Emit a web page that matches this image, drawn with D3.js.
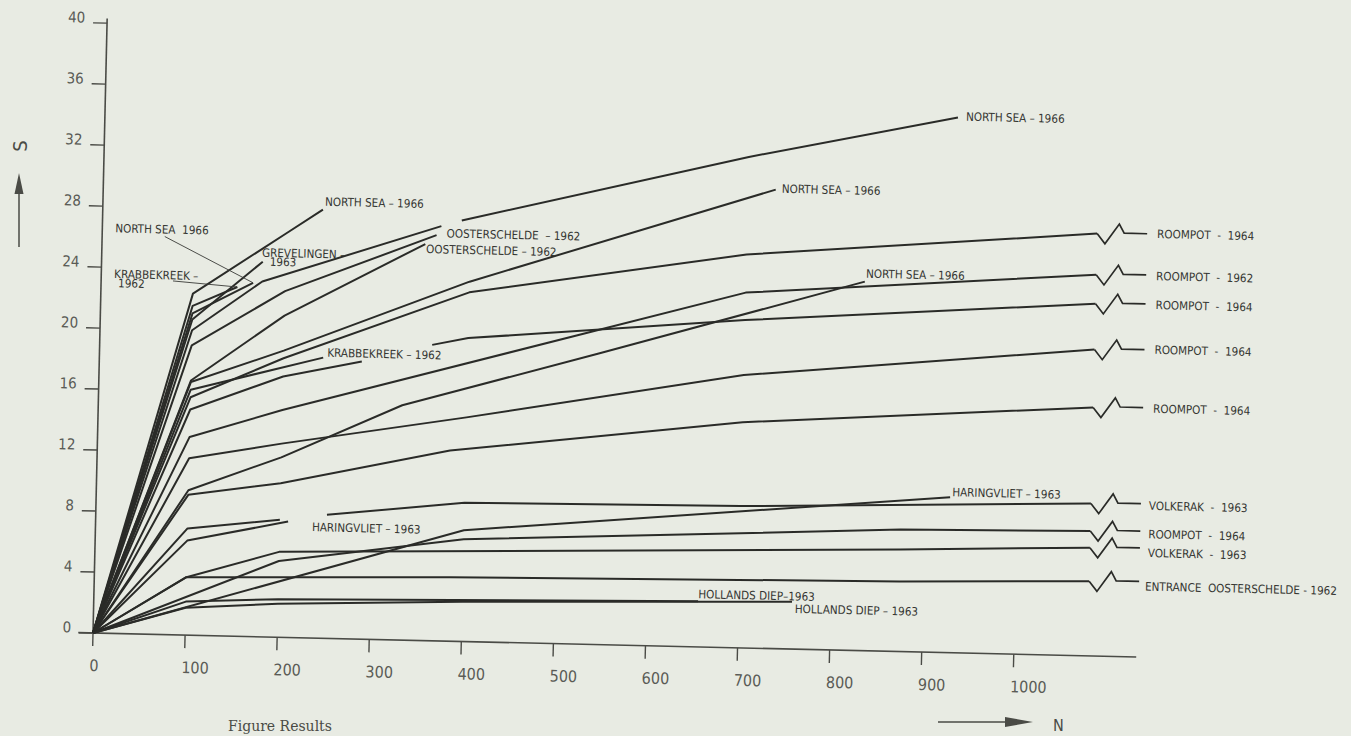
<!DOCTYPE html>
<html>
<head>
<meta charset="utf-8">
<script src="https://cdn.jsdelivr.net/npm/d3@7"></script>
<style>
  body { margin: 0; background: #e8ebe3; }
  svg { display: block; }
  text { font-family: "Liberation Sans Narrow", "DejaVu Sans Condensed", sans-serif; fill: #353632; }
  .lbl { font-size: 11.6px; white-space: pre; }
</style>
</head>
<body>
<svg id="chart" width="1351" height="736"></svg>
<script>
//-----------------------------------------------------//
// Data (N, S), null = gap in the drawn line

const xTicks = [0, 100, 200, 300, 400, 500, 600, 700, 800, 900, 1000];
const yTicks = [0, 4, 8, 12, 16, 20, 24, 28, 32, 36, 40];

const northSeaTop    = [[0,0],[100,20.0],[175,23.3],[368,27.2],null,[390,27.6],[700,32.2],[926,35.1]];
const northSeaShort  = [[0,0],[100,22.4],[200,26.5],[239,28.1]];
const krabbeUpper    = [[0,0],[100,21.6],[148,22.9]];
const northSeaLeader = [[0,0],[100,21.1],[165,23.2]];
const grevelingen    = [[0,0],[100,20.7],[175,24.6]];
const oosterUpper    = [[0,0],[100,19.0],[200,22.7],[363,26.6]];
const oosterLower    = [[0,0],[100,16.7],[200,21.1],[351,26.0]];
const northSeaMid    = [[0,0],[100,16.6],[200,18.8],[400,23.6],[730,30.1]];
const krabbeMid      = [[0,0],[100,16.1],[243,18.4]];
const roompotA       = [[0,0],[100,15.6],[200,18.3],[400,22.9],[700,25.8],[1080,27.7]];
const roompot62      = [[0,0],[100,13.0],[200,14.9],[700,23.3],[1080,25.0]];
const roompotB       = [[0,0],[100,14.8],[200,17.1],[285,18.2],null,[361,19.4],[400,19.9],[700,21.5],[1080,23.1]];
const roompotC       = [[0,0],[100,11.6],[200,12.7],[400,14.7],[700,17.9],[1080,20.1]];
const roompotD       = [[0,0],[100,9.2],[200,10.1],[383,12.5],[700,14.8],[1080,16.3]];
const northSeaLow    = [[0,0],[100,9.5],[200,11.8],[330,15.4],[543,19.1],[829,24.2]];
const volkerakA      = [[0,0],[100,7.0],[200,7.7],null,[251,8.1],[400,9.1],[700,9.3],[1080,10.0]];
const haringLeft     = [[0,0],[100,6.2],[209,7.6]];
const haringRight    = [[0,0],[400,7.3],[927,10.2]];
const roompotE       = [[0,0],[200,5.0],[400,6.7],[874,8.0],[1080,8.2]];
const volkerakB      = [[0,0],[100,3.8],[200,5.6],[874,6.7],[1080,7.1]];
const entrance       = [[0,0],[100,3.8],[386,4.2],[874,4.6],[1080,4.9]];
const hollandsA      = [[0,0],[100,2.2],[200,2.5],[656,3.0]];
const hollandsB      = [[0,0],[100,1.8],[200,2.2],[400,2.6],[758,3.1]];

// label text per series; broken = runs past the axis break on the right
const series = [
  { pts: northSeaTop,    name: "NORTH SEA \u2013 1966" },
  { pts: northSeaShort,  name: "NORTH SEA \u2013 1966" },
  { pts: krabbeUpper,    name: "" },
  { pts: northSeaLeader, name: "" },
  { pts: grevelingen,    name: "" },
  { pts: oosterUpper,    name: "OOSTERSCHELDE  \u2013 1962" },
  { pts: oosterLower,    name: "OOSTERSCHELDE \u2013 1962" },
  { pts: northSeaMid,    name: "NORTH SEA \u2013 1966" },
  { pts: krabbeMid,      name: "KRABBEKREEK \u2013 1962" },
  { pts: roompotA,       name: "ROOMPOT  -  1964", broken: true },
  { pts: roompot62,      name: "ROOMPOT  -  1962", broken: true },
  { pts: roompotB,       name: "ROOMPOT  -  1964", broken: true },
  { pts: roompotC,       name: "ROOMPOT  -  1964", broken: true },
  { pts: roompotD,       name: "ROOMPOT  -  1964", broken: true },
  { pts: northSeaLow,    name: "NORTH SEA \u2013 1966" },
  { pts: volkerakA,      name: "VOLKERAK  -  1963", broken: true },
  { pts: haringLeft,     name: "HARINGVLIET \u2013 1963" },
  { pts: haringRight,    name: "HARINGVLIET \u2013 1963" },
  { pts: roompotE,       name: "ROOMPOT  -  1964", broken: true },
  { pts: volkerakB,      name: "VOLKERAK  -  1963", broken: true },
  { pts: entrance,       name: "ENTRANCE  OOSTERSCHELDE - 1962", broken: true, fit: 192 },
  { pts: hollandsA,      name: "HOLLANDS DIEP\u20131963" },
  { pts: hollandsB,      name: "HOLLANDS DIEP \u2013 1963" }
];

// label offsets (px) from the last point of each series
const labelOffset = [
  [8,3],[2,-4],null,null,null,[10,2],[1,9],[6,3],[4,-1],
  [60,3],[60,4],[60,4],[60,3],[60,4],[1,-4],[58,5],[24,9],[2,-1],
  [58,6],[58,8],[56,8],[0,-3],[3,11]
];

//-----------------------------------------------------//

const svg = d3.select("#chart");
const originX = 93, originY = 633;
const tilt = 1.32;   // the scanned page sits slightly rotated

const x = d3.scaleLinear().domain([0, 1000]).range([originX, originX + 921]);
const y = d3.scaleLinear().domain([0, 40]).range([originY, originY - 610]);

const g = svg.append("g").attr("transform", `rotate(${tilt},${originX},${originY})`);

// axes
g.append("line")
  .attr("x1", x(-16)).attr("x2", x(1133))
  .attr("y1", y(0)).attr("y2", y(0))
  .attr("stroke", "#4a4b46").attr("stroke-width", 1.6);
g.append("line")
  .attr("x1", x(0)).attr("x2", x(0))
  .attr("y1", y(0)).attr("y2", y(40.3))
  .attr("stroke", "#4a4b46").attr("stroke-width", 1.6);

g.selectAll(".ytick").data(yTicks).enter().append("line")
  .attr("x1", x(0) - 14).attr("x2", x(0))
  .attr("y1", d => y(d)).attr("y2", d => y(d))
  .attr("stroke", "#4a4b46").attr("stroke-width", 1.4);
g.selectAll(".ylab").data(yTicks).enter().append("text")
  .attr("x", x(0) - 22).attr("y", d => y(d))
  .attr("text-anchor", "end")
  .style("font-size", "15px").style("fill", "#5a5b56")
  .text(d => d);

g.selectAll(".xtick").data(xTicks).enter().append("line")
  .attr("x1", d => x(d)).attr("x2", d => x(d))
  .attr("y1", y(0)).attr("y2", y(0) + 13)
  .attr("stroke", "#4a4b46").attr("stroke-width", 1.4);
g.selectAll(".xlab").data(xTicks).enter().append("text")
  .attr("x", d => x(d) - 3).attr("y", y(0) + 38)
  .style("font-size", "16px").style("fill", "#5a5b56")
  .text(d => d);

// curves
const line = d3.line()
  .defined(d => d !== null)
  .x(d => x(d[0]))
  .y(d => y(d[1]));

g.selectAll(".curve").data(series).enter().append("path")
  .attr("class", "curve")
  .attr("d", d => line(d.pts))
  .attr("fill", "none")
  .attr("stroke", "#2a2b28")
  .attr("stroke-width", 2)
  .attr("stroke-linejoin", "round");

// axis break on the long series
series.forEach(function(s) {
  if (!s.broken) return;
  let p = s.pts[s.pts.length - 1];
  let bx = x(p[0]), by = y(p[1]);
  g.append("path")
    .attr("d", `M${bx},${by} l8,10 l14,-20 l5,9 l23,0`)
    .attr("fill", "none").attr("stroke", "#2a2b28").attr("stroke-width", 1.7);
});

// end labels
series.forEach(function(s, i) {
  let off = labelOffset[i];
  if (!off || !s.name) return;
  let p = s.pts[s.pts.length - 1];
  let t = g.append("text").attr("class", "lbl")
    .attr("x", x(p[0]) + off[0]).attr("y", y(p[1]) + off[1])
    .text(s.name);
  if (s.fit) t.attr("textLength", s.fit).attr("lengthAdjust", "spacingAndGlyphs");
});

// labels with leader lines near the steep part
let endOf = arr => arr[arr.length - 1];

g.append("text").attr("class", "lbl").attr("x", x(14)).attr("y", y(26.3)).text("NORTH SEA  1966");
g.append("line")
  .attr("x1", x(68)).attr("y1", y(26.1))
  .attr("x2", x(endOf(northSeaLeader)[0])).attr("y2", y(endOf(northSeaLeader)[1]))
  .attr("stroke", "#3b3c38").attr("stroke-width", 0.9);

g.append("text").attr("class", "lbl").attr("x", x(14)).attr("y", y(23.3)).text("KRABBEKREEK \u2013");
g.append("text").attr("class", "lbl").attr("x", x(18.5)).attr("y", y(22.7)).text("1962");
g.append("line")
  .attr("x1", x(78)).attr("y1", y(23.2))
  .attr("x2", x(endOf(krabbeUpper)[0])).attr("y2", y(endOf(krabbeUpper)[1]))
  .attr("stroke", "#3b3c38").attr("stroke-width", 0.9);

let gv = endOf(grevelingen);
g.append("text").attr("class", "lbl").attr("x", x(gv[0]) - 1).attr("y", y(gv[1]) - 5).text("GREVELINGEN \u2013");
g.append("text").attr("class", "lbl").attr("x", x(gv[0]) + 7).attr("y", y(gv[1]) + 4).text("1963");

// axis titles (outside the tilted frame)
svg.append("text")
  .attr("transform", "translate(27,146) rotate(-90)")
  .attr("text-anchor", "middle")
  .style("font-size", "20px").style("fill", "#4a4b46")
  .text("S");
svg.append("line").attr("x1", 19).attr("x2", 19).attr("y1", 247).attr("y2", 190)
  .attr("stroke", "#4a4b46").attr("stroke-width", 1.5);
svg.append("path").attr("d", "M19,173 L14.5,194 L23.5,194 Z").attr("fill", "#4a4b46");

svg.append("line").attr("x1", 938).attr("x2", 1010).attr("y1", 722).attr("y2", 722)
  .attr("stroke", "#4a4b46").attr("stroke-width", 1.5);
svg.append("path").attr("d", "M1033,722 L1005,717 L1005,727 Z").attr("fill", "#4a4b46");
svg.append("text").attr("x", 1053).attr("y", 731)
  .style("font-size", "16px").style("fill", "#4a4b46")
  .text("N");

// caption at the bottom edge
svg.append("text").attr("x", 228).attr("y", 731)
  .style("font-family", "'DejaVu Serif', 'Liberation Serif', serif")
  .style("font-size", "14px").style("fill", "#4a4b46")
  .text("Figure     Results");
</script>
</body>
</html>
